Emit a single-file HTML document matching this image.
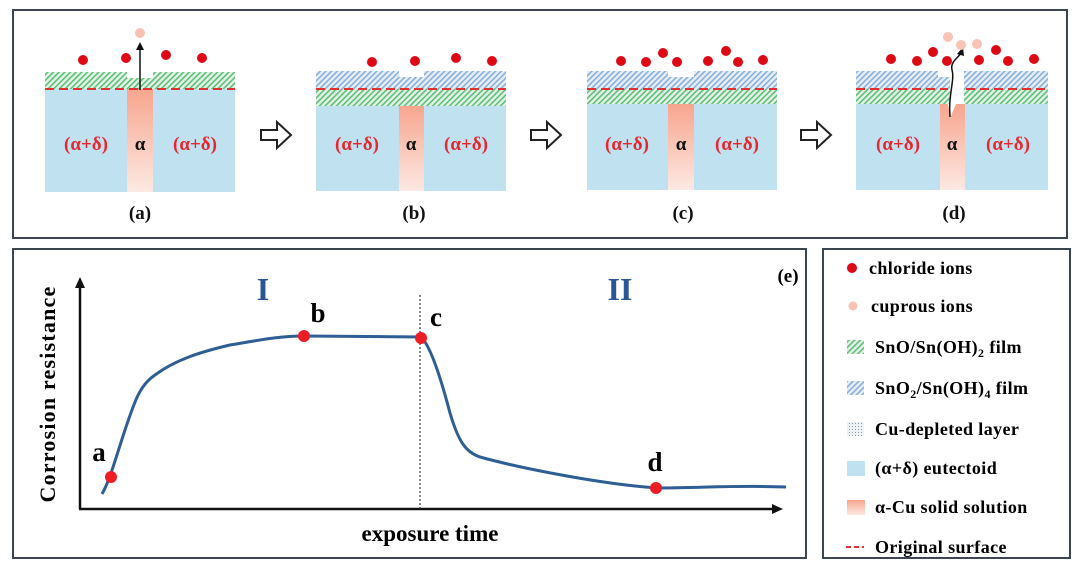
<!DOCTYPE html>
<html><head><meta charset="utf-8"><style>
html,body{margin:0;padding:0;background:#fff;}
svg{display:block;}
text{font-family:"Liberation Serif",serif;font-weight:bold;}
</style></head><body>
<svg width="1080" height="569" viewBox="0 0 1080 569" xmlns="http://www.w3.org/2000/svg">
<defs>
<pattern id="gh" width="4" height="4" patternUnits="userSpaceOnUse" patternTransform="rotate(45)">
<rect width="4" height="4" fill="#e3f3e6"/><rect width="1.6" height="4" fill="#5fbf7a"/></pattern>
<pattern id="bh" width="4" height="4" patternUnits="userSpaceOnUse" patternTransform="rotate(45)">
<rect width="4" height="4" fill="#e6eff8"/><rect width="1.6" height="4" fill="#8aaedb"/></pattern>
<pattern id="dot" width="3" height="3" patternUnits="userSpaceOnUse">
<rect width="3" height="3" fill="#eef2f4"/><rect width="1" height="1" fill="#8a9aa6"/></pattern>
<linearGradient id="al" x1="0" y1="0" x2="0" y2="1"><stop offset="0" stop-color="#f7a58e"/><stop offset="1" stop-color="#fde9e3"/></linearGradient>
<g id="arr"><path d="M0,8 H16 V0 L30,13 L16,26 V18 H0 Z" fill="#fff" stroke="#222" stroke-width="2"/></g>
</defs>
<rect x="13" y="10" width="1054" height="228" fill="#fff" stroke="#3c4650" stroke-width="2"/>
<rect x="13" y="249" width="793" height="309" fill="#fff" stroke="#3c4650" stroke-width="2"/>
<rect x="823" y="249" width="247" height="309" fill="#fff" stroke="#3c4650" stroke-width="2"/>

<!-- Panel a -->
<rect x="45" y="89" width="190" height="103" fill="#bfe1f0"/>
<rect x="127" y="89" width="26" height="103" fill="url(#al)"/>
<path d="M45,72 H127 V78 H153 V72 H235 V89 H45 Z" fill="url(#gh)"/>
<line x1="45" y1="89" x2="235" y2="89" stroke="#e03030" stroke-width="2" stroke-dasharray="9,5"/>
<line x1="140" y1="90" x2="140" y2="48" stroke="#111" stroke-width="1.5"/>
<path d="M136,50 L140,42 L144,50 Z" fill="#111"/>
<g fill="#dd0a16"><circle cx="83" cy="60" r="5"/><circle cx="126" cy="58" r="5"/><circle cx="166" cy="55" r="5"/><circle cx="202" cy="58" r="5"/></g>
<circle cx="140" cy="33" r="5" fill="#f8c2b4"/>
<text x="86" y="150" fill="#e8262d" font-size="19" text-anchor="middle">(α+δ)</text>
<text x="140" y="150" fill="#111" font-size="19" text-anchor="middle">α</text>
<text x="195" y="150" fill="#e8262d" font-size="19" text-anchor="middle">(α+δ)</text>
<text x="140" y="219" fill="#111" font-size="19" text-anchor="middle">(a)</text>

<use href="#arr" x="261" y="122"/>

<!-- Panel b -->
<rect x="316" y="106" width="190" height="85" fill="#bfe1f0"/>
<rect x="399" y="106" width="25" height="85" fill="url(#al)"/>
<rect x="316" y="89" width="190" height="17" fill="url(#gh)"/>
<path d="M316,71 H399 V77 H424 V71 H506 V89 H316 Z" fill="url(#bh)"/>
<line x1="316" y1="89" x2="506" y2="89" stroke="#e03030" stroke-width="2" stroke-dasharray="9,5"/>
<g fill="#dd0a16"><circle cx="372" cy="62" r="5"/><circle cx="415" cy="61" r="5"/><circle cx="456" cy="58" r="5"/><circle cx="492" cy="61" r="5"/></g>
<text x="357" y="150" fill="#e8262d" font-size="19" text-anchor="middle">(α+δ)</text>
<text x="411" y="150" fill="#111" font-size="19" text-anchor="middle">α</text>
<text x="466" y="150" fill="#e8262d" font-size="19" text-anchor="middle">(α+δ)</text>
<text x="414" y="219" fill="#111" font-size="19" text-anchor="middle">(b)</text>

<use href="#arr" x="531" y="122"/>

<!-- Panel c -->
<rect x="587" y="104" width="190" height="86" fill="#bfe1f0"/>
<rect x="668" y="104" width="26" height="86" fill="url(#al)"/>
<rect x="587" y="89" width="190" height="15" fill="url(#gh)"/>
<path d="M587,71 H668 V77 H694 V71 H777 V89 H587 Z" fill="url(#bh)"/>
<line x1="587" y1="89" x2="777" y2="89" stroke="#e03030" stroke-width="2" stroke-dasharray="9,5"/>
<g fill="#dd0a16"><circle cx="621" cy="61" r="5"/><circle cx="646" cy="62" r="5"/><circle cx="663" cy="53" r="5"/><circle cx="677" cy="62" r="5"/><circle cx="708" cy="61" r="5"/><circle cx="726" cy="51" r="5"/><circle cx="738" cy="62" r="5"/><circle cx="763" cy="60" r="5"/></g>
<text x="627" y="150" fill="#e8262d" font-size="19" text-anchor="middle">(α+δ)</text>
<text x="681" y="150" fill="#111" font-size="19" text-anchor="middle">α</text>
<text x="737" y="150" fill="#e8262d" font-size="19" text-anchor="middle">(α+δ)</text>
<text x="683" y="219" fill="#111" font-size="19" text-anchor="middle">(c)</text>

<use href="#arr" x="801" y="122"/>

<!-- Panel d -->
<rect x="856" y="104" width="192" height="86" fill="#bfe1f0"/>
<rect x="940" y="104" width="25" height="86" fill="url(#al)"/>
<rect x="856" y="89" width="192" height="15" fill="url(#gh)"/>
<path d="M856,71 H938 V77 H950 V89 H856 Z" fill="url(#bh)"/>
<path d="M964,89 V71 H1048 V89 Z" fill="url(#bh)"/>
<rect x="964" y="89" width="84" height="15" fill="url(#gh)"/>
<rect x="950" y="89" width="14" height="15" fill="#fff"/>
<path d="M948,104 L950,118 L956,104 Z" fill="#fff"/>
<line x1="856" y1="89" x2="948" y2="89" stroke="#e03030" stroke-width="2" stroke-dasharray="9,5"/>
<line x1="966" y1="89" x2="1048" y2="89" stroke="#e03030" stroke-width="2" stroke-dasharray="9,5"/>
<path d="M950,117 C948,95 955,80 952,70 C950,62 958,58 961,53" fill="none" stroke="#111" stroke-width="1.5"/>
<path d="M957,54 L963,47 L964,56 Z" fill="#111"/>
<g fill="#dd0a16"><circle cx="891" cy="59" r="5"/><circle cx="917" cy="61" r="5"/><circle cx="933" cy="52" r="5"/><circle cx="947" cy="61" r="5"/><circle cx="979" cy="60" r="5"/><circle cx="996" cy="50" r="5"/><circle cx="1008" cy="61" r="5"/><circle cx="1034" cy="59" r="5"/></g>
<g fill="#f8c2b4"><circle cx="948" cy="37" r="5"/><circle cx="961" cy="45" r="5"/><circle cx="977" cy="44" r="5"/></g>
<text x="898" y="150" fill="#e8262d" font-size="19" text-anchor="middle">(α+δ)</text>
<text x="952" y="150" fill="#111" font-size="19" text-anchor="middle">α</text>
<text x="1008" y="150" fill="#e8262d" font-size="19" text-anchor="middle">(α+δ)</text>
<text x="954" y="219" fill="#111" font-size="19" text-anchor="middle">(d)</text>

<!-- Chart e -->
<line x1="80" y1="509" x2="80" y2="286" stroke="#111" stroke-width="2.5"/>
<path d="M75,288 L80,277 L85,288 Z" fill="#111"/>
<line x1="79" y1="509" x2="774" y2="509" stroke="#111" stroke-width="2.5"/>
<path d="M772,504 L783,509 L772,514 Z" fill="#111"/>
<line x1="420" y1="295" x2="420" y2="509" stroke="#333" stroke-width="1.2" stroke-dasharray="2,2"/>
<path d="M102,494 C110,480 115,460 125,430 C135,400 140,385 155,375 C175,360 200,352 230,345 C260,340 280,336 304,336 L421,337 C430,345 440,375 450,413 C458,440 465,452 480,457 C520,468 600,484 657,488 C700,488 740,485 786,487" fill="none" stroke="#2e5e94" stroke-width="3"/>
<g fill="#ee1c25"><circle cx="111" cy="477" r="6"/><circle cx="304" cy="336" r="6"/><circle cx="421" cy="338" r="6"/><circle cx="656" cy="488" r="6"/></g>
<text x="99" y="461" font-size="27" text-anchor="middle">a</text>
<text x="318" y="322" font-size="27" text-anchor="middle">b</text>
<text x="436" y="326" font-size="27" text-anchor="middle">c</text>
<text x="655" y="471" font-size="27" text-anchor="middle">d</text>
<text x="263" y="300" font-size="32" fill="#2a5597" text-anchor="middle">I</text>
<text x="620" y="300" font-size="32" fill="#2a5597" text-anchor="middle">II</text>
<text x="788" y="282" font-size="19" text-anchor="middle">(e)</text>
<text x="430" y="541" font-size="23" text-anchor="middle">exposure time</text>
<text transform="translate(55,394) rotate(-90)" font-size="22" text-anchor="middle" letter-spacing="1.2">Corrosion resistance</text>

<!-- Legend -->
<g font-size="18" letter-spacing="0.4">
<circle cx="852" cy="268" r="5" fill="#dd0a16"/>
<text x="869" y="274">chloride ions</text>
<circle cx="853" cy="306" r="4.5" fill="#f8c2b4"/>
<text x="871" y="312">cuprous ions</text>
<rect x="847" y="340" width="17" height="14" fill="url(#gh)"/>
<text x="875" y="353">SnO/Sn(OH)<tspan font-size="12" dy="4">2</tspan><tspan dy="-4">  film</tspan></text>
<rect x="847" y="381" width="17" height="14" fill="url(#bh)"/>
<text x="875" y="394">SnO<tspan font-size="12" dy="4">2</tspan><tspan dy="-4">/Sn(OH)</tspan><tspan font-size="12" dy="4">4</tspan><tspan dy="-4"> film</tspan></text>
<rect x="847" y="422" width="17" height="14" fill="url(#dot)"/>
<text x="875" y="435">Cu-depleted layer</text>
<rect x="847" y="461" width="18" height="15" fill="#bfe1f0"/>
<text x="875" y="474">(α+δ) eutectoid</text>
<rect x="847" y="500" width="18" height="15" fill="url(#al)"/>
<text x="875" y="513">α-Cu solid solution</text>
<line x1="846" y1="547" x2="864" y2="547" stroke="#e03030" stroke-width="2" stroke-dasharray="5,3"/>
<text x="875" y="553">Original surface</text>
</g>
</svg>
</body></html>
